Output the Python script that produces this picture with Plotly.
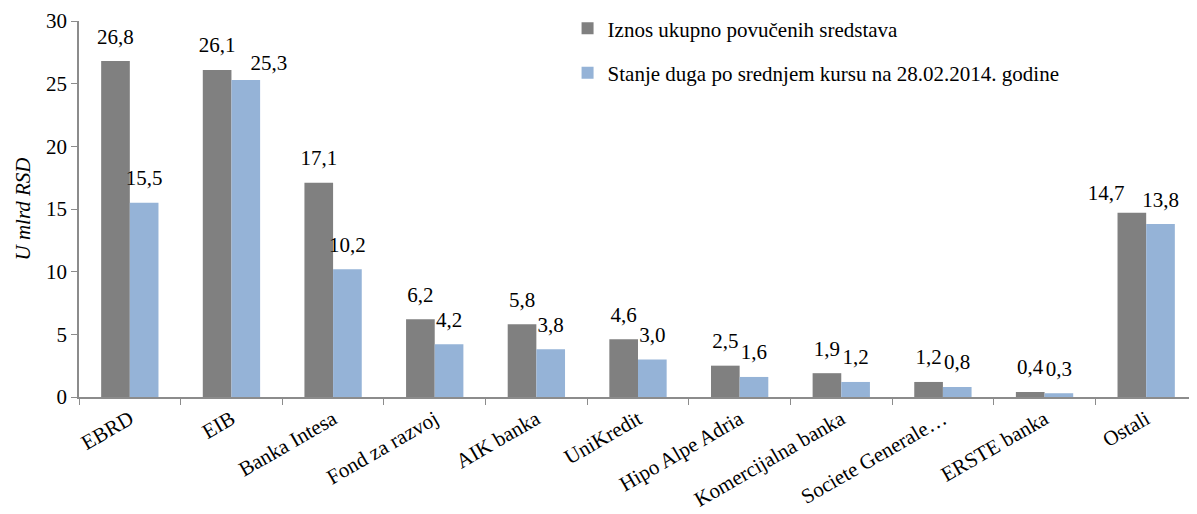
import plotly.graph_objects as go

categories = ["EBRD", "EIB", "Banka Intesa", "Fond za razvoj", "AIK banka", "UniKredit",
              "Hipo Alpe Adria", "Komercijalna banka", "Societe Generale…", "ERSTE banka", "Ostali"]
drawn = [26.8, 26.1, 17.1, 6.2, 5.8, 4.6, 2.5, 1.9, 1.2, 0.4, 14.7]
debt = [15.5, 25.3, 10.2, 4.2, 3.8, 3.0, 1.6, 1.2, 0.8, 0.3, 13.8]
series_names = ["Iznos ukupno povučenih sredstava",
                "Stanje duga po srednjem kursu na 28.02.2014. godine"]
colors = ["#808080", "#95B3D7"]

# label placement overrides to avoid overlapping labels (as in the original)
label_pos = [{"Ostali": ("top left", 10)}, {"EIB": ("top right", 6)}]

FONT = "Times New Roman, Liberation Serif, serif"
FS = 21

fig = go.Figure()
for i, (vals, name) in enumerate([(drawn, series_names[0]), (debt, series_names[1])]):
    fig.add_trace(go.Bar(x=categories, y=vals, name=name, marker_color=colors[i],
                         marker_line_width=0, offsetgroup=str(i), legendgroup=str(i)))
for i, vals in enumerate([drawn, debt]):
    pos = [label_pos[i].get(c, ("top center", 18))[0] for c in categories]
    sizes = [label_pos[i].get(c, ("top center", 18))[1] for c in categories]
    fig.add_trace(go.Scatter(x=categories, y=vals, mode="markers+text", offsetgroup=str(i),
                             marker=dict(size=sizes, color="rgba(0,0,0,0)", opacity=0,
                                         line=dict(width=0, color="rgba(0,0,0,0)")),
                             texttemplate="%{y:.1f}", textposition=pos,
                             textfont=dict(family=FONT, size=FS, color="black"),
                             showlegend=False, hoverinfo="skip", cliponaxis=False))

fig.update_layout(
    width=1189, height=506,
    separators=",.",
    barmode="group", scattermode="group", bargap=0.436, bargroupgap=0,
    plot_bgcolor="white", paper_bgcolor="white",
    margin=dict(l=71, r=0, t=13, b=117, autoexpand=False),
    font=dict(family=FONT, size=FS, color="black"),
    showlegend=True,
    legend=dict(x=0.437, y=1.034, xanchor="left", yanchor="top", bgcolor="rgba(0,0,0,0)",
                font=dict(family=FONT, size=FS), tracegroupgap=14, traceorder="grouped",
                itemwidth=30),
    xaxis=dict(type="category", tickangle=-30, showline=True, linecolor="#8c8c8c", linewidth=1.5,
               ticks="outside", tickson="boundaries", ticklen=6, tickcolor="#8c8c8c",
               tickfont=dict(family=FONT, size=FS), automargin=False),
    yaxis=dict(range=[0, 30], dtick=5, showgrid=False, showline=True, linecolor="#8c8c8c",
               linewidth=1.5, ticks="outside", ticklen=6, tickcolor="#8c8c8c", zeroline=False,
               tickfont=dict(family=FONT, size=FS), automargin=False,
               title=dict(text="<i>U mlrd RSD</i>", font=dict(family=FONT, size=FS), standoff=10)),
)
fig.write_html("out.html")
